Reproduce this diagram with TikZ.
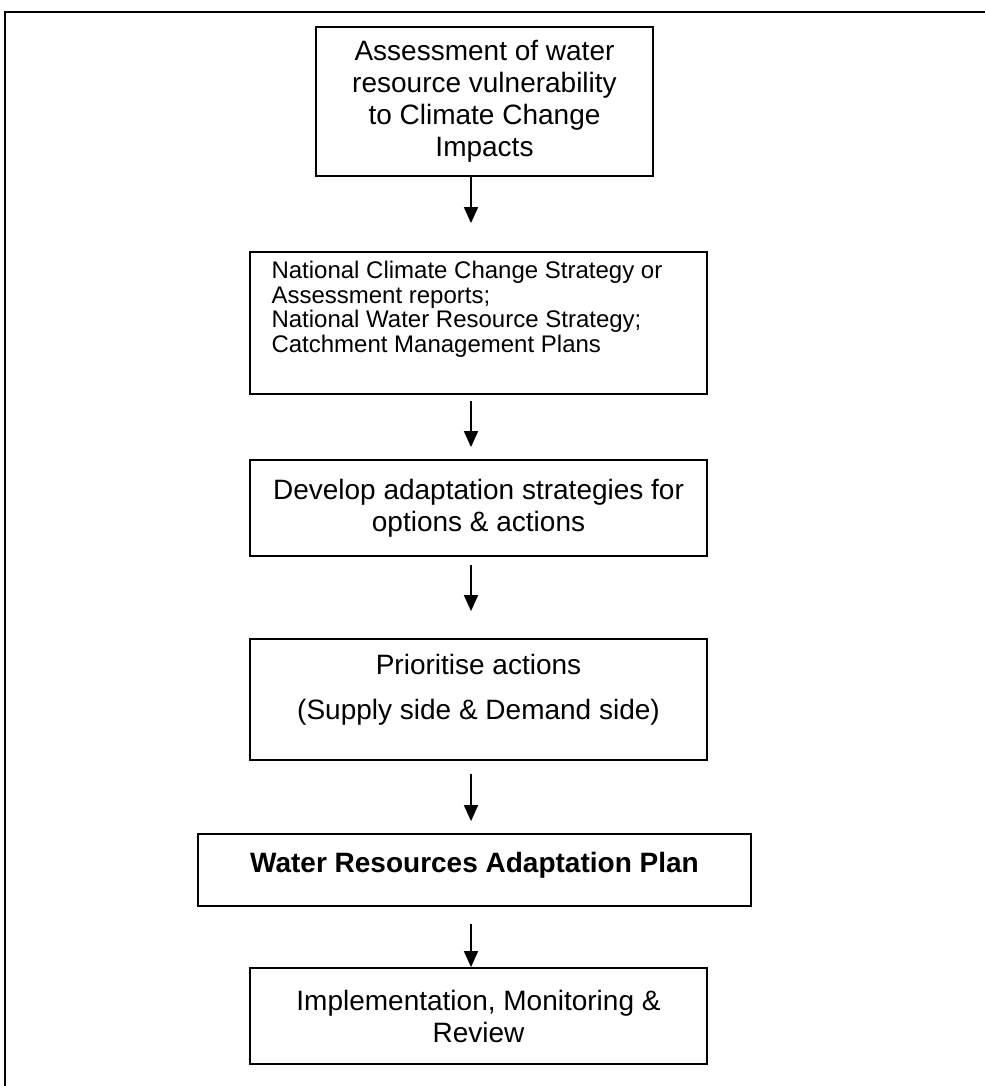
\documentclass[tikz,border=0pt]{standalone}
\usepackage{fontspec}
\setmainfont{Liberation Sans}
\usetikzlibrary{arrows.meta, positioning}
\tikzset{
    >={Triangle[width=7pt,length=8pt]},
    % Shapes
    box/.style={rectangle, draw=black, line width=0.9pt, inner sep=0pt, align=center,
                font=\fontsize{14}{16}\selectfont},
    wide/.style={minimum width=228.5pt},
    txt/.style={inner sep=0pt, align=center, font=\fontsize{14}{22.5}\selectfont},
    % Flow & frame
    flow/.style={->, line width=0.9pt, black},
    frame/.style={line width=1pt, black}
}

\begin{document}
\begin{tikzpicture}[x=0.5pt, y=-0.5pt]

\useasboundingbox (0,0) rectangle (985,1086);
\draw[frame] (5,1086) -- (5,12) -- (985,12);

\coordinate (axis) at (471,0);

\node[box, minimum width=168.5pt, minimum height=74.5pt] (assess) at (484.5,101.5)
    {Assessment of water\\resource vulnerability\\to Climate Change\\Impacts};
\node[box, wide, minimum height=71pt] (reports) at (478.5,323) {};
\node[txt, align=left, font=\fontsize{12}{12.2}\selectfont,
      below right=5pt and 11pt of reports.north west] (reportsText)
    {National Climate Change Strategy or\\Assessment reports;\\National Water Resource Strategy;\\Catchment Management Plans};
\node[box, wide, minimum height=48pt] (develop) at (478.5,508)
    {Develop adaptation strategies for\\options \& actions};
\node[box, wide, minimum height=60.5pt] (prio) at (478.5,699.5) {};
\node[txt, below=8pt of prio.north] (prioText)
    {Prioritise actions\\(Supply side \& Demand side)};
\node[box, minimum width=276.5pt, minimum height=36pt] (plan) at (474.5,870) {};
\node[txt, font=\fontsize{14}{16}\selectfont\bfseries, below=9.5pt of plan.north] (planText)
    {Water Resources Adaptation Plan};
\node[box, wide, minimum height=48pt] (impl) at (478.5,1016)
    {Implementation, Monitoring \&\\Review};

\draw[flow, shorten >=14pt] (assess.south -| axis) -- (reports.north -| axis);
\draw[flow, shorten <=3pt, shorten >=6pt] (reports.south -| axis) -- (develop.north -| axis);
\draw[flow, shorten <=4pt, shorten >=13.5pt] (develop.south -| axis) -- (prio.north -| axis);
\draw[flow, shorten <=6.5pt, shorten >=6pt] (prio.south -| axis) -- (plan.north -| axis);
\draw[flow, shorten <=8.5pt] (plan.south -| axis) -- (impl.north -| axis);

\end{tikzpicture}
\end{document}
